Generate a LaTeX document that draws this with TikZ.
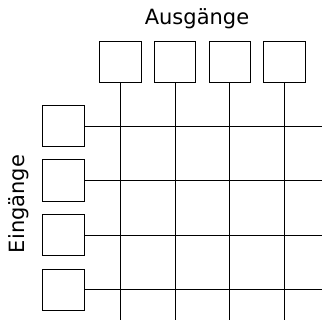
\documentclass[tikz,border=0pt]{standalone}
\usepackage{fontspec}
\setmainfont{DejaVu Sans}
\begin{document}
\begin{tikzpicture}[x=1pt,y=1pt,
  portbox/.style={draw, line width=1pt, minimum width=41.5pt, minimum height=41.5pt, inner sep=0pt},
  wire/.style={line width=0.9pt},
  lbl/.style={font=\fontsize{21}{25}\selectfont, inner sep=0pt}]
\useasboundingbox (0,0) rectangle (322,320);
% output boxes
\foreach \i/\x in {1/120.5,2/175.2,3/229.9,4/284.4}{
  \node[portbox] (o\i) at (\x,258) {};
  \coordinate (ob\i) at (\x,0);
  \draw[wire] (o\i.south) -- (ob\i);
}
% input boxes
\foreach \j/\y in {1/194,2/139.4,3/84.8,4/30.2}{
  \node[portbox] (e\j) at (63.3,\y) {};
  \coordinate (er\j) at (322,\y);
  \draw[wire] (e\j.east) -- (er\j);
}
\node[lbl, anchor=base] (aus) at (197,295) {Ausgänge};
\node[lbl, anchor=base, rotate=90] (ein) at (25,116) {Eingänge};
\end{tikzpicture}
\end{document}
